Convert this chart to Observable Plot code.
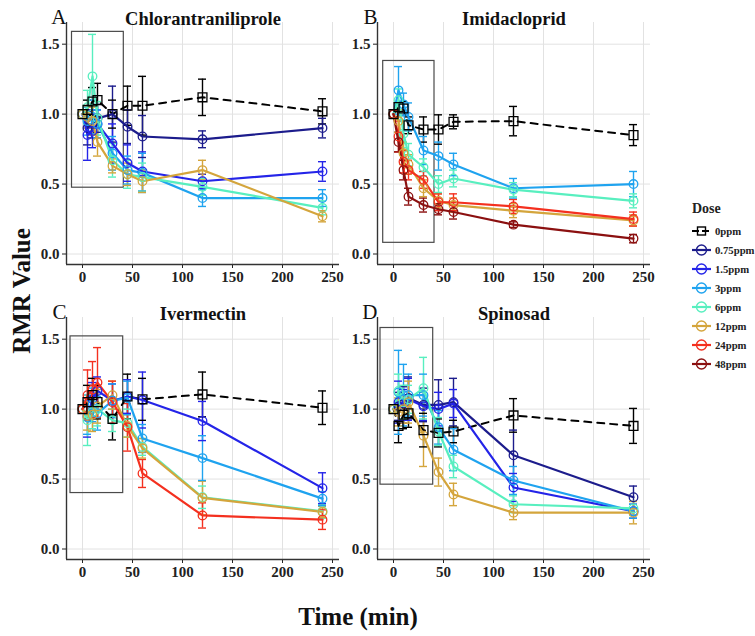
<!DOCTYPE html>
<html>
<head>
<meta charset="utf-8">
<script src="https://cdn.jsdelivr.net/npm/d3@7"></script>
<script src="https://cdn.jsdelivr.net/npm/@observablehq/plot@0.6"></script>
<style>
  html, body { margin: 0; padding: 0; background: #fff; }
  #root { position: relative; width: 755px; height: 636px; font-family: "Liberation Serif", "DejaVu Serif", serif; }
  #root svg { position: absolute; overflow: visible; }
  .axtitle { position: absolute; font-weight: bold; font-size: 25px; color: #111; white-space: nowrap; }
  #legend { position: absolute; left: 689px; top: 201px; font-weight: bold; color: #222; white-space: nowrap; }
  #legend .ttl { font-size: 14px; margin-bottom: 4px; margin-left: 3px; }
  #legend .row { display: flex; align-items: center; height: 19px; font-size: 10.7px; }
  #legend .row svg { position: static; margin-right: 2px; }
</style>
</head>
<body>
<div id="root"></div>
<script>
// ---------- data ----------
const times = [0, 5, 10, 15, 30, 45, 60, 120, 240];
const doses = ["0ppm", "0.75ppm", "1.5ppm", "3ppm", "6ppm", "12ppm", "24ppm", "48ppm"];
const doseColors = ["#000000", "#1c1c8c", "#2424e8", "#1fa3ef", "#58efbf", "#d4a53c", "#f4301f", "#8b1010"];
const panelNames = ["Chlorantraniliprole", "Imidacloprid", "Ivermectin", "Spinosad"];
const panelLetters = ["A", "B", "C", "D"];
const xTicks = [0, 50, 100, 150, 200, 250];
const yTicks = [0, 0.5, 1.0, 1.5];

// Chlorantraniliprole (A)
const chlorMean = {
  "0ppm":    [1.00, 1.03, 1.09, 1.10, 1.00, 1.06, 1.06, 1.12, 1.02],
  "0.75ppm": [1.00, 0.90, 0.93, 0.97, 1.00, 0.91, 0.84, 0.82, 0.90],
  "1.5ppm":  [1.00, 0.85, 0.88, 0.93, 0.79, 0.65, 0.59, 0.52, 0.59],
  "3ppm":    [1.00, 0.95, 0.98, 0.93, 0.72, 0.60, 0.58, 0.40, 0.40],
  "6ppm":    [1.00, 1.05, 1.27, 0.97, 0.67, 0.57, 0.55, 0.48, 0.33],
  "12ppm":   [1.00, 0.98, 0.95, 0.80, 0.63, 0.57, 0.52, 0.60, 0.27]
};
const chlorErr = {
  "0ppm":    [0, 0.07, 0.10, 0.12, 0.10, 0.14, 0.21, 0.13, 0.09],
  "0.75ppm": [0, 0.12, 0.10, 0.10, 0.20, 0.12, 0.15, 0.06, 0.07],
  "1.5ppm":  [0, 0.18, 0.12, 0.10, 0.14, 0.13, 0.14, 0.05, 0.07],
  "3ppm":    [0, 0.10, 0.12, 0.10, 0.12, 0.10, 0.14, 0.06, 0.06],
  "6ppm":    [0, 0.12, 0.30, 0.12, 0.12, 0.10, 0.10, 0.06, 0.05],
  "12ppm":   [0, 0.08, 0.10, 0.10, 0.05, 0.08, 0.08, 0.07, 0.04]
};
// Imidacloprid (B)
const imidMean = {
  "0ppm":  [1.00, 1.05, 1.04, 0.92, 0.89, 0.89, 0.945, 0.95, 0.85],
  "3ppm":  [1.00, 1.17, 1.07, 0.98, 0.74, 0.70, 0.64, 0.47, 0.50],
  "6ppm":  [1.00, 1.10, 0.86, 0.71, 0.62, 0.50, 0.54, 0.46, 0.38],
  "12ppm": [1.00, 0.95, 0.72, 0.64, 0.47, 0.38, 0.35, 0.31, 0.24],
  "24ppm": [1.00, 0.84, 0.66, 0.60, 0.53, 0.37, 0.37, 0.34, 0.25],
  "48ppm": [1.00, 0.80, 0.60, 0.41, 0.35, 0.32, 0.30, 0.21, 0.11]
};
const imidErr = {
  "0ppm":  [0, 0.03, 0.05, 0.06, 0.09, 0.105, 0.05, 0.105, 0.075],
  "3ppm":  [0, 0.17, 0.08, 0.10, 0.10, 0.10, 0.08, 0.07, 0.09],
  "6ppm":  [0, 0.08, 0.10, 0.08, 0.06, 0.06, 0.06, 0.05, 0.05],
  "12ppm": [0, 0.08, 0.08, 0.07, 0.06, 0.05, 0.05, 0.05, 0.04],
  "24ppm": [0, 0.11, 0.08, 0.07, 0.06, 0.06, 0.06, 0.05, 0.05],
  "48ppm": [0, 0.07, 0.07, 0.06, 0.05, 0.04, 0.05, 0.02, 0.03]
};
// Ivermectin (C)
const iverMean = {
  "0ppm":   [1.00, 1.05, 1.10, 1.05, 0.93, 1.09, 1.07, 1.105, 1.01],
  "1.5ppm": [1.00, 0.95, 1.07, 1.13, 1.06, 1.09, 1.065, 0.915, 0.435],
  "3ppm":   [1.00, 0.94, 1.03, 0.97, 1.06, 1.08, 0.79, 0.65, 0.36],
  "6ppm":   [1.00, 0.92, 0.98, 1.00, 0.92, 0.90, 0.73, 0.37, 0.27],
  "12ppm":  [1.00, 0.95, 0.96, 1.02, 1.10, 0.88, 0.72, 0.365, 0.265],
  "24ppm":  [1.00, 1.10, 1.14, 1.19, 1.05, 0.87, 0.54, 0.24, 0.21]
};
const iverErr = {
  "0ppm":   [0, 0.12, 0.12, 0.12, 0.15, 0.16, 0.15, 0.16, 0.12],
  "1.5ppm": [0, 0.15, 0.12, 0.10, 0.12, 0.12, 0.20, 0.14, 0.11],
  "3ppm":   [0, 0.12, 0.12, 0.12, 0.12, 0.12, 0.10, 0.16, 0.05],
  "6ppm":   [0, 0.18, 0.12, 0.12, 0.08, 0.10, 0.06, 0.08, 0.05],
  "12ppm":  [0, 0.10, 0.12, 0.12, 0.10, 0.08, 0.07, 0.12, 0.04],
  "24ppm":  [0, 0.18, 0.20, 0.25, 0.15, 0.17, 0.10, 0.09, 0.07]
};
// Spinosad (D)
const spinMean = {
  "0ppm":    [1.00, 0.88, 0.96, 0.97, 0.85, 0.83, 0.84, 0.955, 0.88],
  "0.75ppm": [1.00, 1.02, 1.04, 1.08, 1.03, 1.03, 1.05, 0.67, 0.37],
  "1.5ppm":  [1.00, 1.05, 1.02, 1.07, 1.02, 1.00, 1.04, 0.44, 0.27],
  "3ppm":    [1.00, 1.12, 1.10, 1.10, 1.10, 0.87, 0.71, 0.49, 0.27],
  "6ppm":    [1.00, 1.13, 1.05, 1.07, 1.15, 0.84, 0.59, 0.32, 0.29],
  "12ppm":   [1.00, 0.98, 1.00, 1.05, 0.81, 0.55, 0.39, 0.26, 0.26]
};
const spinErr = {
  "0ppm":    [0, 0.12, 0.10, 0.10, 0.12, 0.10, 0.08, 0.12, 0.125],
  "0.75ppm": [0, 0.10, 0.12, 0.15, 0.12, 0.18, 0.17, 0.18, 0.08],
  "1.5ppm":  [0, 0.15, 0.12, 0.15, 0.10, 0.12, 0.10, 0.10, 0.05],
  "3ppm":    [0, 0.30, 0.22, 0.15, 0.15, 0.12, 0.15, 0.10, 0.05],
  "6ppm":    [0, 0.12, 0.12, 0.10, 0.22, 0.10, 0.08, 0.06, 0.05],
  "12ppm":   [0, 0.10, 0.10, 0.15, 0.22, 0.10, 0.08, 0.05, 0.08]
};
// highlighted early-window boxes (time, RMR)
const boxTime = [[-10.5, 41.3], [-10.3, 41], [-12, 40.7], [-13, 39.7]];
const boxValue = [[0.474, 1.588], [0.08, 1.38], [0.40, 1.52], [0.46, 1.58]];

// ---------- layout ----------
const W = 350, H = 295;
const xDomain = [-16, 257];
const yDomain = [-0.075, 1.655];
const panelPos = [[0, 0], [311, 0], [0, 295], [311, 295]];
const means = [chlorMean, imidMean, iverMean, spinMean];
const errs = [chlorErr, imidErr, iverErr, spinErr];

function rowsOf(mean, err) {
  const rows = [];
  for (const dose of doses) {
    if (!mean[dose]) continue;
    mean[dose].forEach((v, i) => rows.push({dose, t: times[i], v, e: err[dose][i]}));
  }
  return rows;
}

const root = document.getElementById("root");
const CAP = 4;

panelNames.forEach((name, p) => {
  const rows = rowsOf(means[p], errs[p]);
  const withErr = rows.filter(d => d.e > 0);
  const ctrl = rows.filter(d => d.dose === "0ppm");
  const treat = rows.filter(d => d.dose !== "0ppm");
  const box = [{x1: boxTime[p][0], x2: boxTime[p][1], y1: boxValue[p][0], y2: boxValue[p][1]}];
  const svg = Plot.plot({
    width: W, height: H,
    marginLeft: 66, marginRight: 11, marginTop: 22, marginBottom: 31,
    x: {domain: xDomain, ticks: xTicks, tickSize: 4, tickPadding: 3, label: null},
    y: {domain: yDomain, ticks: yTicks, tickFormat: d3.format(".1f"), tickSize: 4, tickPadding: 3, label: null},
    color: {domain: doses, range: doseColors},
    style: {fontFamily: "Liberation Serif, serif", fontSize: "15px", fontWeight: "bold", color: "#222", background: "transparent", overflow: "visible"},
    marks: [
      Plot.ruleX(xTicks, {stroke: "#e2e2e2", strokeWidth: 1}),
      Plot.ruleY(yTicks, {stroke: "#e2e2e2", strokeWidth: 1}),
      Plot.rect(box, {x1: "x1", x2: "x2", y1: "y1", y2: "y2", fill: "none", stroke: "#4a4a4a", strokeWidth: 1.2}),
      Plot.ruleX(withErr, {x: "t", y1: d => d.v - d.e, y2: d => d.v + d.e, stroke: "dose", strokeWidth: 1.4}),
      Plot.ruleY(withErr, {y: d => d.v + d.e, x1: d => d.t - CAP, x2: d => d.t + CAP, stroke: "dose", strokeWidth: 1.4}),
      Plot.ruleY(withErr, {y: d => d.v - d.e, x1: d => d.t - CAP, x2: d => d.t + CAP, stroke: "dose", strokeWidth: 1.4}),
      Plot.line(ctrl, {x: "t", y: "v", stroke: "dose", strokeWidth: 2, strokeDasharray: "7,6"}),
      Plot.line(treat, {x: "t", y: "v", z: "dose", stroke: "dose", strokeWidth: 2.2}),
      Plot.dot(treat, {x: "t", y: "v", r: 4.3, stroke: "dose", fill: "none", strokeWidth: 1.3}),
      Plot.dot(ctrl, {x: "t", y: "v", r: 5, symbol: "square", stroke: "dose", fill: "none", strokeWidth: 1.3}),
      Plot.ruleX([xDomain[0]], {stroke: "#333", strokeWidth: 1.4}),
      Plot.ruleY([yDomain[0]], {stroke: "#333", strokeWidth: 1.4}),
      Plot.text([name], {frameAnchor: "top", dy: -11, fontSize: 18.5, fontWeight: "bold", fill: "#111"}),
      Plot.text([panelLetters[p]], {frameAnchor: "top-left", dx: 0, dy: -13, textAnchor: "end", fontSize: 21, fontWeight: "normal", fill: "#111"})
    ]
  });
  svg.style.left = panelPos[p][0] + "px";
  svg.style.top = panelPos[p][1] + "px";
  root.appendChild(svg);
});

// axis titles
const yt = document.createElement("div");
yt.className = "axtitle";
yt.textContent = "RMR Value";
yt.style.left = "22px"; yt.style.top = "291px";
yt.style.transform = "translate(-50%, -50%) rotate(-90deg)";
root.appendChild(yt);

const xt = document.createElement("div");
xt.className = "axtitle";
xt.textContent = "Time (min)";
xt.style.left = "358px"; xt.style.top = "617px";
xt.style.transform = "translate(-50%, -50%)";
root.appendChild(xt);

// legend
const leg = document.createElement("div");
leg.id = "legend";
const lt = document.createElement("div");
lt.className = "ttl"; lt.textContent = "Dose";
leg.appendChild(lt);
doses.forEach((dose, i) => {
  const row = document.createElement("div");
  row.className = "row";
  const ns = "http://www.w3.org/2000/svg";
  const s = document.createElementNS(ns, "svg");
  s.setAttribute("width", 24); s.setAttribute("height", 14);
  const ln = document.createElementNS(ns, "line");
  ln.setAttribute("x1", 3); ln.setAttribute("x2", 22); ln.setAttribute("y1", 7); ln.setAttribute("y2", 7);
  ln.setAttribute("stroke", doseColors[i]); ln.setAttribute("stroke-width", 2.2);
  if (dose === "0ppm") ln.setAttribute("stroke-dasharray", "7,3");
  s.appendChild(ln);
  let mk;
  if (dose === "0ppm") {
    mk = document.createElementNS(ns, "rect");
    mk.setAttribute("x", 8.5); mk.setAttribute("y", 3); mk.setAttribute("width", 8); mk.setAttribute("height", 8);
  } else {
    mk = document.createElementNS(ns, "circle");
    mk.setAttribute("cx", 12.5); mk.setAttribute("cy", 7); mk.setAttribute("r", 5);
  }
  mk.setAttribute("fill", "none"); mk.setAttribute("stroke", doseColors[i]); mk.setAttribute("stroke-width", 1.4);
  s.appendChild(mk);
  row.appendChild(s);
  const tx = document.createElement("span");
  tx.textContent = dose;
  row.appendChild(tx);
  leg.appendChild(row);
});
root.appendChild(leg);
</script>
</body>
</html>
